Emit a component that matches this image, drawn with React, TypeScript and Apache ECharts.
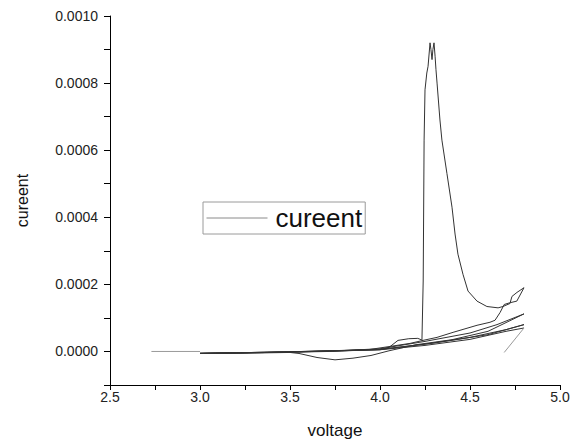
import React, { useEffect, useRef } from "react";
import * as echarts from "echarts";

// Main scan (dark line): forward sweep with the oxidation peak, then further cycles
const mainVoltage = [
  3.0, 3.2, 3.4, 3.6, 3.8, 4.0, 4.05, 4.1, 4.16, 4.21, 4.233,
  4.24, 4.245, 4.25, 4.26, 4.267, 4.278, 4.283, 4.289, 4.294, 4.3, 4.306, 4.311, 4.317,
  4.333, 4.344, 4.372, 4.4, 4.417, 4.433, 4.461, 4.489, 4.539, 4.594, 4.656, 4.683,
  4.722, 4.733, 4.761, 4.8,
  // return 1
  4.76, 4.72, 4.69, 4.667, 4.639, 4.611, 4.539, 4.406, 4.317, 4.239, 4.167, 4.056, 3.944, 3.72, 3.4, 3.0,
  // forward 2
  3.2, 3.5, 3.8, 4.0, 4.25, 4.5, 4.65, 4.8,
  // return 2 (with the dip)
  4.6, 4.4, 4.2, 4.05, 3.95, 3.85, 3.75, 3.65, 3.55, 3.5, 3.25, 3.0,
  // forward 3
  3.5, 4.0, 4.25, 4.5, 4.7, 4.8,
  // return 3
  4.6, 4.3, 4.0, 3.5, 3.0,
  // forward 4
  3.5, 4.0, 4.25, 4.5, 4.7, 4.8,
];
const mainCurrent = [
  -0.000005, -0.000004, -0.000002, 0.0, 0.000002, 0.000005, 0.000012, 0.000033, 0.000038, 0.000039, 0.000034,
  0.00021, 0.00063, 0.00078, 0.00083, 0.00085, 0.00092, 0.0009, 0.00087, 0.0009, 0.00092, 0.00088, 0.00084, 0.0008,
  0.00069, 0.00063, 0.00053, 0.00043, 0.00035, 0.00029, 0.00023, 0.00018, 0.00015, 0.000134, 0.00013, 0.000134,
  0.000143, 0.000164, 0.000176, 0.00019,
  0.00015, 0.000145, 0.00014, 0.000116, 0.000093, 0.000087, 0.000078, 0.000057, 0.000042, 0.000033, 0.000024, 0.000015, 0.000006, 0.0, -0.000003, -0.000006,
  -0.000004, -0.000001, 0.000003, 0.000008, 0.00003, 0.000055, 0.00008, 0.000112,
  0.00006, 0.000035, 0.00002, 0.000002, -0.000012, -0.00002, -0.000025, -0.000018, -0.000006, -0.000003, -0.000005, -0.000006,
  -0.000001, 0.000006, 0.000022, 0.000042, 0.000065, 0.00008,
  0.00005, 0.000025, 0.000006, -0.000002, -0.000006,
  -0.000002, 0.000005, 0.000018, 0.000036, 0.00006, 0.00007,
];

// Light grey segments
const startVoltage = [2.73, 3.0];
const startCurrent = [0.0, 0.0];
const tailVoltage = [4.69, 4.8];
const tailCurrent = [-0.000003, 0.00007];

const xTickLabels = ["2.5", "3.0", "3.5", "4.0", "4.5", "5.0"];
const yTickLabels = ["0.0000", "0.0002", "0.0004", "0.0006", "0.0008", "0.0010"];

const pairs = (xs: number[], ys: number[]) => xs.map((x, i) => [x, ys[i]]);

export default function App() {
  const ref = useRef<HTMLDivElement>(null);
  useEffect(() => {
    if (!ref.current) return;
    const chart = echarts.init(ref.current, null, { renderer: "svg" });
    const font = "Liberation Sans, Arial, sans-serif";
    chart.setOption({
      animation: false,
      backgroundColor: "#ffffff",
      grid: { left: 110, right: 17, top: 16, bottom: 61 },
      legend: {
        data: [{ name: "cureent" }],
        left: 203,
        top: 202,
        orient: "vertical",
        borderColor: "#9a9a9a",
        borderWidth: 1,
        padding: [3, 3, 3, 3],
        itemWidth: 61,
        itemHeight: 14,
        itemGap: 0,
        itemStyle: { opacity: 0 },
        lineStyle: { color: "#8a8a8a", width: 1 },
        textStyle: { fontSize: 26, color: "#111", fontFamily: font, padding: [0, 0, 0, 3] },
      },
      xAxis: {
        type: "value",
        min: 2.5,
        max: 5.0,
        interval: 0.25,
        name: "voltage",
        nameLocation: "middle",
        nameGap: 37,
        nameTextStyle: { fontSize: 17, color: "#111", fontFamily: font },
        splitLine: { show: false },
        axisLine: { onZero: false, lineStyle: { color: "#000", width: 1 } },
        axisTick: { length: 5, lineStyle: { color: "#000" } },
        axisLabel: {
          fontSize: 14,
          color: "#222",
          fontFamily: font,
          margin: 5,
          formatter: (v: number) => {
            const k = Math.round((v - 2.5) / 0.5 * 1000) / 1000;
            return Number.isInteger(k) ? xTickLabels[k] ?? "" : "";
          },
        },
      },
      yAxis: {
        type: "value",
        min: -0.0001,
        max: 0.001,
        interval: 0.0001,
        name: "cureent",
        nameLocation: "middle",
        nameGap: 80,
        nameTextStyle: { fontSize: 16, color: "#111", fontFamily: font },
        splitLine: { show: false },
        axisLine: { show: true, onZero: false, lineStyle: { color: "#000", width: 1 } },
        axisTick: { show: true, length: 6, lineStyle: { color: "#000" } },
        axisLabel: {
          fontSize: 14,
          color: "#222",
          fontFamily: font,
          margin: 12,
          formatter: (v: number) => {
            const n = Math.round(v / 0.0001);
            if (n < 0 || n % 2 !== 0) return "";
            return yTickLabels[n / 2] ?? "";
          },
        },
      },
      series: [
        {
          name: "cureent",
          type: "line",
          data: pairs(mainVoltage, mainCurrent),
          symbol: "none",
          lineStyle: { color: "#333", width: 1 },
          itemStyle: { color: "#8a8a8a" },
        },
        {
          name: "cureent",
          type: "line",
          data: pairs(startVoltage, startCurrent),
          symbol: "none",
          lineStyle: { color: "#999", width: 1 },
        },
        {
          name: "cureent",
          type: "line",
          data: pairs(tailVoltage, tailCurrent),
          symbol: "none",
          lineStyle: { color: "#999", width: 1 },
        },
      ],
    });
    return () => chart.dispose();
  }, []);
  return (
    <div
      ref={ref}
      style={{ position: "absolute", left: 0, top: 0, width: 577, height: 446 }}
    />
  );
}
